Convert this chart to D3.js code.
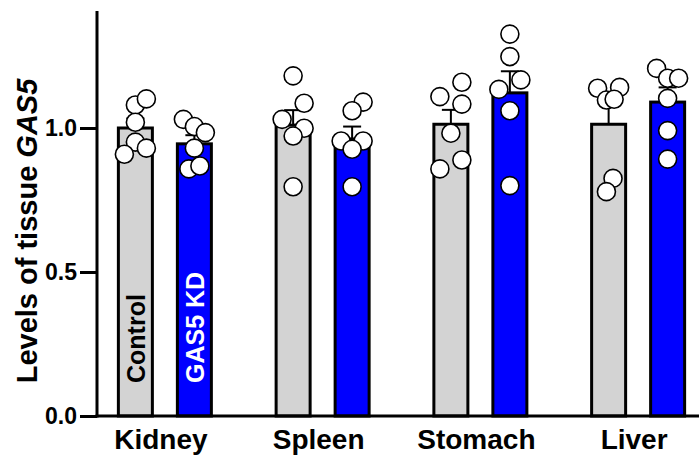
<!DOCTYPE html>
<html>
<head>
<meta charset="utf-8">
<script src="https://cdn.jsdelivr.net/npm/d3@7"></script>
<style>
html,body{margin:0;padding:0;background:#fff;}
svg{display:block;}
text{font-family:"Liberation Sans",Arial,sans-serif;font-weight:bold;}
</style>
</head>
<body>
<svg id="chart" width="699" height="455"></svg>
<script>
// ---- data ----
const tissues = ["Kidney", "Spleen", "Stomach", "Liver"];
const groups = ["Control", "GAS5 KD"];
const yTicks = [0.0, 0.5, 1.0];
const yLabel = "Levels of tissue ";
const yLabelGene = "GAS5";

// bar means (tissue order) per group
const controlMeans = [1.00, 1.01, 1.013, 1.013];
const kdMeans      = [0.945, 0.962, 1.122, 1.090];
// SEM
const controlSem = [0.033, 0.052, 0.050, 0.068];
const kdSem      = [0.030, 0.043, 0.075, 0.051];

// individual points
const kidneyControl  = [1.080, 1.101, 1.020, 0.951, 0.909, 0.930];
const kidneyKD       = [1.030, 1.005, 0.984, 0.930, 0.858, 0.868];
const spleenControl  = [1.181, 1.086, 1.030, 0.999, 0.972, 0.796];
const spleenKD       = [1.090, 1.060, 0.955, 0.955, 0.926, 0.796];
const stomachControl = [1.159, 1.109, 1.083, 0.982, 0.889, 0.858];
const stomachKD      = [1.326, 1.248, 1.167, 1.134, 1.060, 0.800];
const liverControl   = [1.138, 1.141, 1.097, 1.100, 0.825, 0.779];
const liverKD        = [1.207, 1.173, 1.173, 1.103, 0.991, 0.892];
// horizontal jitter lanes for the points (in units of one lane)
const kidneyControlLane  = [0, 1, 0, 0, -1, 1];
const kidneyKDLane       = [-1, 0, 1, 0, -0.5, 0.5];
const spleenControlLane  = [0, 1, -1, 1, 0, 0];
const spleenKDLane       = [1, 0, -1, 1, 0, 0];
const stomachControlLane = [1, -1, 1, 0, 1, -1];
const stomachKDLane      = [0, 0, 1, -1, 0, 0];
const liverControlLane   = [-1, 1, -0.2, 0.5, 0.4, -0.2];
const liverKDLane        = [-1, 0, 1, 0, 0, 0];

const pointsTable = [
  [kidneyControl, kidneyKD],
  [spleenControl, spleenKD],
  [stomachControl, stomachKD],
  [liverControl, liverKD]
];
const laneTable = [
  [kidneyControlLane, kidneyKDLane],
  [spleenControlLane, spleenKDLane],
  [stomachControlLane, stomachKDLane],
  [liverControlLane, liverKDLane]
];
const meansTable = [controlMeans, kdMeans];
const semTable = [controlSem, kdSem];
const fills = {"Control": "#d3d3d3", "GAS5 KD": "#0000ff"};

// ---- layout ----
const svg = d3.select("#chart");
const axisX = 97, baseY = 416;
const y = d3.scaleLinear().domain([0, 1.4]).range([baseY, 12.8]);
const x = d3.scaleBand().domain(tissues).range([86, 717]).padding(0);
const xs = d3.scalePoint().domain(groups).range([-29.5, 29.5]);
const barW = 34, laneW = 11, r = 9;

const flat = [];
tissues.forEach((t, i) => groups.forEach((g, j) => {
  flat.push({t, g, i, j, mean: meansTable[j][i], sem: semTable[j][i],
             pts: pointsTable[i][j], lanes: laneTable[i][j],
             cx: x(t) + x.bandwidth() / 2 + xs(g)});
}));

// bars
svg.append("g").selectAll("rect").data(flat).join("rect")
  .attr("x", d => d.cx - barW / 2)
  .attr("y", d => y(d.mean))
  .attr("width", barW)
  .attr("height", d => y(0) - y(d.mean))
  .attr("fill", d => fills[d.g])
  .attr("stroke", "#000")
  .attr("stroke-width", 3);

// error bars
const eb = svg.append("g").attr("stroke", "#000").attr("stroke-width", 2);
eb.selectAll("line.v").data(flat).join("line").attr("class", "v")
  .attr("x1", d => d.cx).attr("x2", d => d.cx)
  .attr("y1", d => y(d.mean)).attr("y2", d => y(d.mean + d.sem));
eb.selectAll("line.c").data(flat).join("line").attr("class", "c")
  .attr("x1", d => d.cx - 9).attr("x2", d => d.cx + 9)
  .attr("y1", d => y(d.mean + d.sem)).attr("y2", d => y(d.mean + d.sem));

// points
const pts = [];
flat.forEach(d => d.pts.forEach((v, k) => pts.push({cx: d.cx + d.lanes[k] * laneW, v})));
svg.append("g").selectAll("circle").data(pts).join("circle")
  .attr("cx", d => d.cx).attr("cy", d => y(d.v)).attr("r", r)
  .attr("fill", "#fff").attr("stroke", "#000").attr("stroke-width", 1.6);

// in-bar labels (first tissue)
flat.filter(d => d.i === 0).forEach(d => {
  svg.append("text")
    .attr("transform", `translate(${d.cx + 1},383) rotate(-90)`)
    .attr("dy", "0.36em")
    .attr("font-size", 25)
    .attr("fill", d.j === 0 ? "#000" : "#fff")
    .text(d.g);
});

// y axis
const yAxis = d3.axisLeft(y).tickValues(yTicks).tickFormat(d3.format(".1f"))
  .tickSize(17).tickSizeOuter(0).tickPadding(3);
const gy = svg.append("g").attr("transform", `translate(${axisX},0)`).call(yAxis);
gy.select(".domain").remove();
gy.selectAll(".tick line").attr("stroke", "#000").attr("stroke-width", 3);
gy.selectAll(".tick text").attr("font-size", 23).attr("fill", "#000")
  .style("font-family", "'Liberation Sans',Arial,sans-serif").style("font-weight", "bold");
gy.append("line").attr("x1", 0).attr("x2", 0).attr("y1", 11).attr("y2", baseY + 1.5)
  .attr("stroke", "#000").attr("stroke-width", 3);

// x axis
const xAxis = d3.axisBottom(x).tickSize(0).tickPadding(0);
const gx = svg.append("g").attr("transform", `translate(0,${baseY})`).call(xAxis);
gx.select(".domain").remove();
gx.append("line").attr("x1", axisX - 1.5).attr("x2", 699).attr("y1", 0).attr("y2", 0)
  .attr("stroke", "#000").attr("stroke-width", 3);
gx.selectAll(".tick text").attr("font-size", 28).attr("fill", "#000").attr("dy", null)
  .attr("y", 33).attr("x", -4)
  .style("font-family", "'Liberation Sans',Arial,sans-serif").style("font-weight", "bold");

// y label
const yl = svg.append("text")
  .attr("transform", `translate(27,231) rotate(-90)`)
  .attr("text-anchor", "middle").attr("dy", "0.36em")
  .attr("font-size", 29).attr("fill", "#000");
yl.append("tspan").text(yLabel);
yl.append("tspan").attr("font-style", "italic").text(yLabelGene);
</script>
</body>
</html>
